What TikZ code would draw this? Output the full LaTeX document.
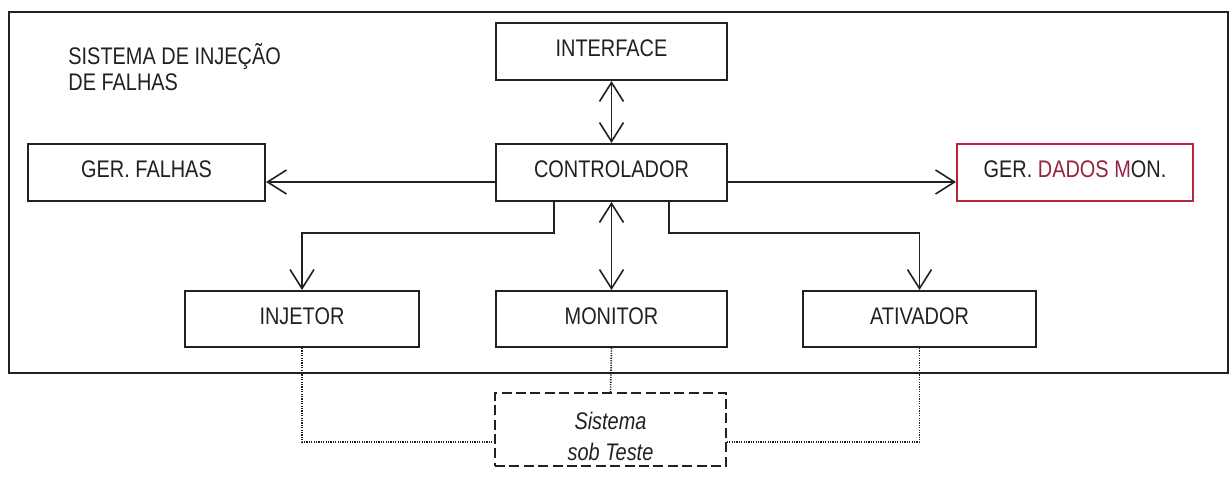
\documentclass[tikz,border=0pt]{standalone}
\usepackage{fontspec}
\setmainfont{Liberation Sans}[FakeStretch=0.83]
\usetikzlibrary{arrows.meta}
\definecolor{ink}{rgb}{0.13,0.13,0.13}
\definecolor{tint}{RGB}{185,35,60}
\definecolor{tinttext}{RGB}{150,35,65}

\begin{document}
\begin{tikzpicture}[x=0.5pt,y=-0.5pt,
  font=\fontsize{12}{13}\selectfont,
  blk/.style={draw=ink, line width=1pt, minimum height=28.5pt, inner sep=0pt,
              text depth=3pt, text=ink},
  link/.style={draw=ink, line width=0.8pt, -{Straight Barb[length=9.5pt,width=12pt]}},
  dlink/.style={draw=ink, line width=0.8pt,
                {Straight Barb[length=9.5pt,width=12pt]}-{Straight Barb[length=9.5pt,width=12pt]}},
  probe/.style={draw=ink, line width=0.8pt, dash pattern=on 0.6pt off 0.6pt},
]
\useasboundingbox (0,0) rectangle (1232,488);

% system boundary
\node[draw=ink, line width=1pt, minimum width=609.5pt, minimum height=180.5pt, inner sep=0pt]
  (sys) at (618.5,192.5) {};
\node[anchor=north west, inner sep=0pt, align=left, text=ink] (title) at (68,43)
  {SISTEMA DE INJEÇÃO\\DE FALHAS};

% blocks
\node[blk, minimum width=115.5pt] (iface) at (611.5,51.5) {INTERFACE};
\node[blk, minimum width=115.5pt] (ctrl)  at (611.5,172.5) {CONTROLADOR};
\node[blk, minimum width=118.5pt] (gerf)  at (146.5,172.5) {GER. FALHAS};
\node[blk, draw=tint, minimum width=118pt] (gerd) at (1075,172.5)
  {GER. \textcolor{tinttext}{DADOS M}ON.};
\node[blk, minimum width=117pt, minimum height=28pt] (inj)  at (302,319) {INJETOR};
\node[blk, minimum width=115.5pt, minimum height=28pt] (mon) at (611.5,319) {MONITOR};
\node[blk, minimum width=116.5pt, minimum height=28pt] (ativ) at (919.5,319) {ATIVADOR};

% system under test
\node[draw=ink, line width=1pt, dash pattern=on 5pt off 2.2pt, minimum width=115.5pt,
      minimum height=36.5pt, inner sep=0pt] (sut) at (610.5,429.5) {};
\node[font=\fontsize{12}{15.5}\selectfont\itshape, align=center, text=ink, inner sep=0pt]
  (suttext) at (610.5,436) {Sistema\\sob Teste};

% routing points
\coordinate (hy) at (0,182);
\coordinate (l1) at (554,233);
\coordinate (r1) at (669,233);
\coordinate (dy) at (0,442);

% control connections
\draw[dlink] (iface) -- (ctrl);
\draw[link] (ctrl.west |- hy) -- (gerf.east |- hy);
\draw[link] (ctrl.east |- hy) -- (gerd.west |- hy);
\draw[link] (ctrl.south -| l1) -- (l1) -| (inj.north);
\draw[dlink] (ctrl) -- (mon);
\draw[link] (ctrl.south -| r1) -- (r1) -| (ativ.north);

% probes to the system under test
\draw[probe] (inj.south) |- (sut.west |- dy);
\draw[probe] (mon.south) -- (sut.north);
\draw[probe] (ativ.south) |- (sut.east |- dy);
\end{tikzpicture}
\end{document}
